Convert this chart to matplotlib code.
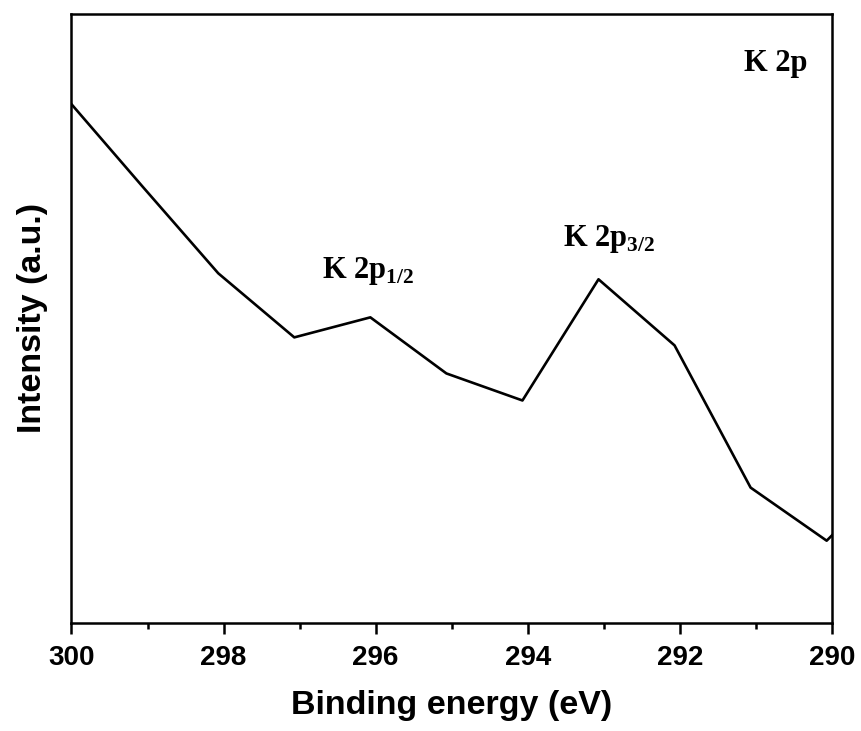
import matplotlib
matplotlib.use("Agg")
import matplotlib.pyplot as plt
from matplotlib.ticker import MultipleLocator

# K 2p XPS spectrum
binding_energy = [300.07, 299.07, 298.07, 297.07, 296.07, 295.07,
                  294.07, 293.07, 292.07, 291.07, 290.07, 289.07]
intensity = [524, 436, 349, 285, 305, 249,
             222, 343, 277, 135, 82, 158]

peak_labels = [r"K 2p$_{\mathbf{1/2}}$", r"K 2p$_{\mathbf{3/2}}$"]
peak_label_x = [296.70, 293.54]
peak_label_y = [344, 376]

plt.rcParams["font.family"] = ["Liberation Sans", "DejaVu Sans"]
plt.rcParams["mathtext.fontset"] = "custom"
plt.rcParams["mathtext.rm"] = "Liberation Serif:bold"
plt.rcParams["mathtext.bf"] = "Liberation Serif:bold"

fig = plt.figure(figsize=(8.61, 7.31), dpi=100)
ax = fig.add_axes([0.083, 0.148, 0.8833, 0.833])

ax.plot(binding_energy, intensity, color="black", linewidth=1.9)

ax.set_xlim(300, 290)
ax.set_ylim(0, 608)
ax.xaxis.set_major_locator(MultipleLocator(2))
ax.xaxis.set_minor_locator(MultipleLocator(1))
ax.set_yticks([])

for spine in ax.spines.values():
    spine.set_linewidth(1.8)

ax.tick_params(axis="x", which="major", direction="out", length=8, width=1.8,
               labelsize=20, pad=8)
ax.tick_params(axis="x", which="minor", direction="out", length=4.5, width=1.8)
for label in ax.get_xticklabels():
    label.set_fontweight("bold")

ax.set_xlabel("Binding energy (eV)", fontsize=24.5, fontweight="bold", labelpad=14)
ax.set_ylabel("Intensity (a.u.)", fontsize=24.5, fontweight="bold", labelpad=17)

ax.text(0.884, 0.906, "K 2p", transform=ax.transAxes, fontsize=22,
        fontfamily="Liberation Serif", fontweight="bold", ha="left", va="baseline")
for text, x, y in zip(peak_labels, peak_label_x, peak_label_y):
    ax.text(x, y, text, fontsize=22, fontfamily="Liberation Serif",
            fontweight="bold", ha="left", va="baseline")

fig.savefig("out.png", dpi=100)
